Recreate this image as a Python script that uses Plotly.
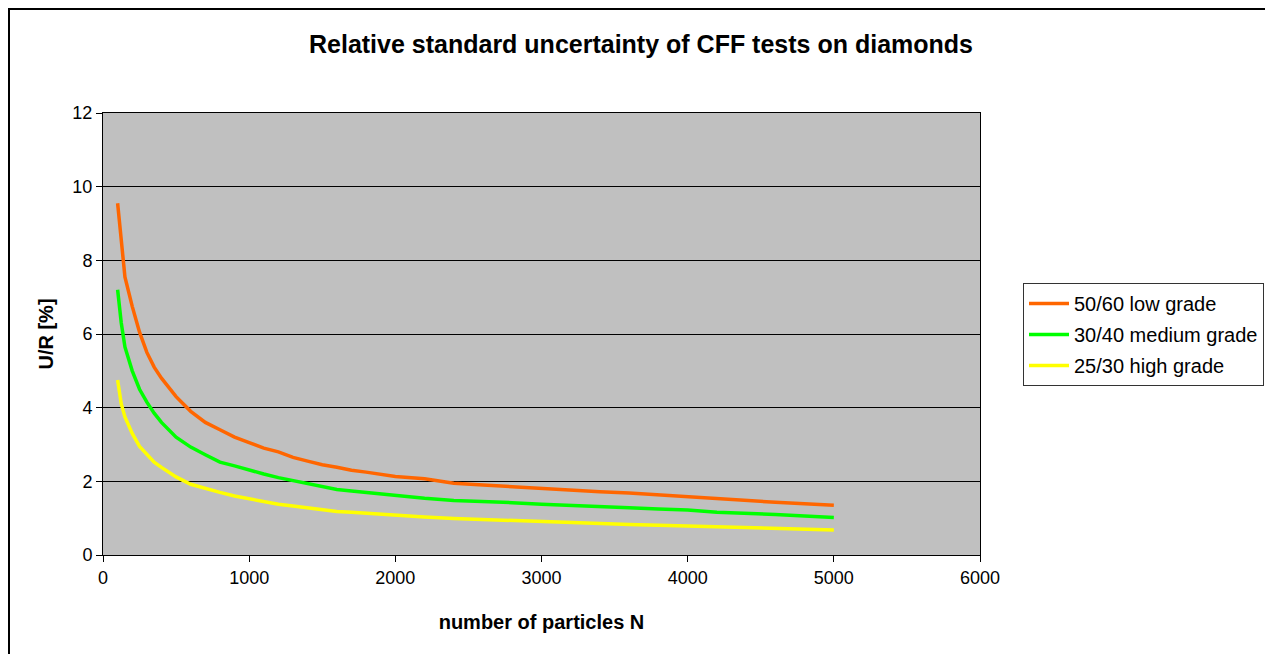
import plotly.graph_objects as go

N = [100, 125, 150, 200, 250, 300, 350, 400, 500, 600, 700, 800, 900, 1000,
     1100, 1200, 1300, 1400, 1500, 1600, 1700, 1800, 1900, 2000, 2200, 2400,
     2600, 2800, 3000, 3200, 3400, 3600, 3800, 4000, 4200, 4400, 4600, 4800, 5000]

low_grade = [9.55, 8.5, 7.55, 6.75, 6.05, 5.5, 5.1, 4.8, 4.3, 3.9, 3.6, 3.4, 3.2, 3.05,
             2.9, 2.8, 2.65, 2.55, 2.45, 2.38, 2.3, 2.25, 2.2, 2.13, 2.07, 1.95,
             1.9, 1.85, 1.8, 1.75, 1.72, 1.68, 1.63, 1.57, 1.51, 1.47, 1.43, 1.39, 1.35]

medium_grade = [7.2, 6.3, 5.65, 5.0, 4.5, 4.15, 3.85, 3.6, 3.2, 2.93, 2.72, 2.52, 2.42, 2.3,
                2.2, 2.1, 2.02, 1.95, 1.85, 1.78, 1.74, 1.7, 1.65, 1.6, 1.54, 1.48,
                1.46, 1.42, 1.38, 1.34, 1.3, 1.28, 1.25, 1.22, 1.16, 1.14, 1.1, 1.06, 1.02]

high_grade = [4.75, 4.1, 3.75, 3.3, 2.95, 2.72, 2.52, 2.38, 2.12, 1.92, 1.8, 1.7, 1.6, 1.52,
              1.45, 1.38, 1.33, 1.28, 1.22, 1.18, 1.16, 1.13, 1.1, 1.07, 1.03, 0.99,
              0.96, 0.93, 0.9, 0.87, 0.85, 0.83, 0.81, 0.79, 0.77, 0.74, 0.72, 0.7, 0.68]

series_names = ["50/60 low grade", "30/40 medium grade", "25/30 high grade"]
series_colors = ["#FF6600", "#00FF00", "#FFFF00"]

FONT = "Liberation Sans, Arial, sans-serif"

fig = go.Figure()
for i, (name, vals, col) in enumerate(zip(series_names, [low_grade, medium_grade, high_grade], series_colors)):
    fig.add_trace(go.Scatter(x=N, y=vals, mode="lines", name=name, legendgroup=f"g{i}",
                             line=dict(color=col, width=3.5)))

OFF = 8  # page body margin
W, H = 1273 - OFF, 654 - OFF
L, R, T, B = 103 - OFF, 980 - OFF, 113 - OFF, 555 - OFF
pw, ph = R - L, B - T

def px_x(p):  # screen px -> paper
    return (p - OFF - L) / pw

def px_y(p):
    return (B - (p - OFF)) / ph

fig.update_layout(
    width=W, height=H,
    margin=dict(l=L, r=W - R, t=T, b=H - B, autoexpand=False),
    paper_bgcolor="white",
    plot_bgcolor="#C0C0C0",
    font=dict(family=FONT, size=18, color="black"),
    title=dict(text="<b>Relative standard uncertainty of CFF tests on diamonds</b>",
               font=dict(family=FONT, size=25, color="black"),
               xref="paper", x=px_x(641), xanchor="center",
               yref="container", y=1 - (44 - OFF) / H, yanchor="middle"),
    xaxis=dict(range=[0, 6000], tickvals=[0, 1000, 2000, 3000, 4000, 5000, 6000],
               showgrid=False, zeroline=False, showline=True, linecolor="black",
               linewidth=1, mirror=True, ticks="outside", ticklen=6,
               tickcolor="black", tickfont=dict(size=18),
               title=dict(text="<b>number of particles N</b>",
                          font=dict(size=20), standoff=28)),
    yaxis=dict(range=[0, 12], tickvals=[0, 2, 4, 6, 8, 10, 12],
               showgrid=True, gridcolor="black", gridwidth=1,
               zeroline=False, showline=True, linecolor="black",
               linewidth=1, mirror=True, ticks="outside", ticklen=6,
               tickcolor="black", tickfont=dict(size=18),
               title=dict(text="<b>U/R [%]</b>", font=dict(size=20), standoff=13)),
    legend=dict(x=px_x(1023), y=px_y(283), xanchor="left", yanchor="top",
                bgcolor="white", bordercolor="#333333", borderwidth=1,
                font=dict(size=20, color="black"), tracegroupgap=2,
                itemwidth=40),
    showlegend=True,
)

# outer chart border
fig.add_shape(type="rect", xref="paper", yref="paper",
              x0=px_x(9), x1=px_x(1271), y0=px_y(670), y1=px_y(9),
              line=dict(color="black", width=2), fillcolor="rgba(0,0,0,0)",
              layer="below")

fig.write_html("out.html")
